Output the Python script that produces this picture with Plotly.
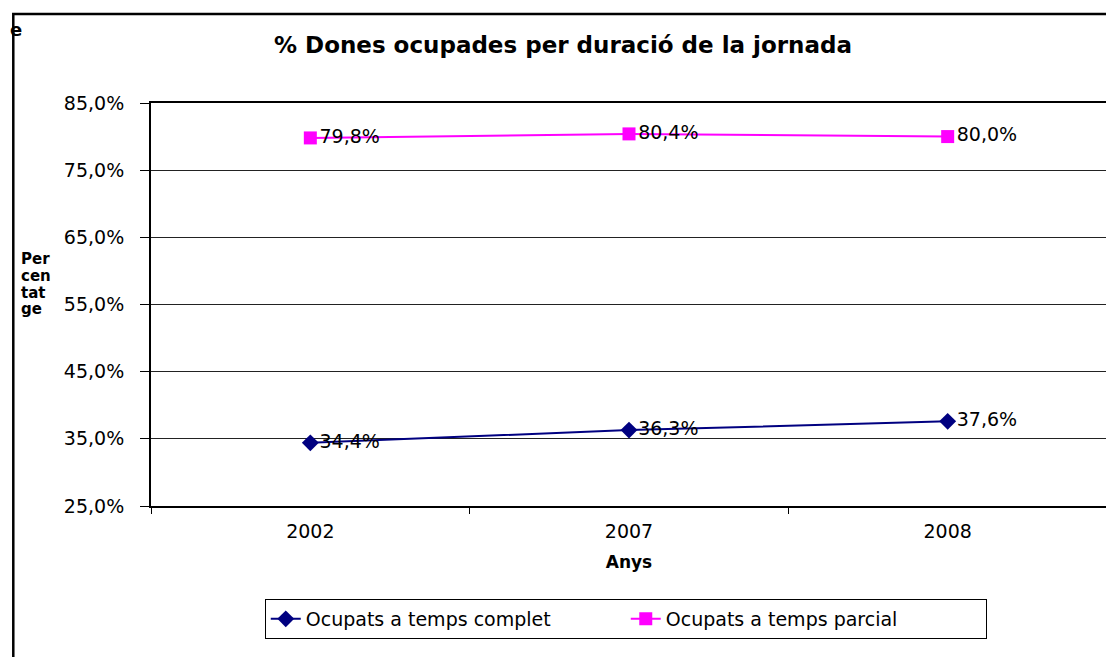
import plotly.graph_objects as go

# dades llegides del gràfic
anys = ["2002", "2007", "2008"]
temps_complet = [34.4, 36.3, 37.6]
temps_parcial = [79.8, 80.4, 80.0]
y_ticks = [25, 35, 45, 55, 65, 75, 85]

FONT = "DejaVu Sans"


def etiqueta(v):
    return f"{v:.1f}%".replace(".", ",")


fig = go.Figure()

fig.add_trace(go.Scatter(
    x=anys, y=temps_complet, name="Ocupats a temps complet",
    mode="lines+markers+text",
    line=dict(color="#000080", width=2),
    marker=dict(symbol="diamond", size=13, color="#000080"),
    text=[etiqueta(v) for v in temps_complet],
    textposition="middle right",
    textfont=dict(family=FONT, size=19, color="black"),
))
fig.add_trace(go.Scatter(
    x=anys, y=temps_parcial, name="Ocupats a temps parcial",
    mode="lines+markers+text",
    line=dict(color="#FF00FF", width=2),
    marker=dict(symbol="square", size=13, color="#FF00FF"),
    text=[etiqueta(v) for v in temps_parcial],
    textposition="middle right",
    textfont=dict(family=FONT, size=19, color="black"),
))

# la pàgina té 8px de marge al body
OFF = 8
W, H = 1114 - OFF, 657 - OFF
L, T = 151 - OFF, 103 - OFF
R = W - (1109 - OFF)
B = H - (506 - OFF)
pw, ph = W - L - R, H - T - B


def px_x(p):
    return (p - OFF - L) / pw


def px_y(p):
    return (H - B - (p - OFF)) / ph


fig.update_layout(
    width=W, height=H,
    margin=dict(l=L, r=R, t=T, b=B),
    paper_bgcolor="white", plot_bgcolor="white",
    font=dict(family=FONT, size=19, color="black"),
    title=dict(text="<b>% Dones ocupades per duració de la jornada</b>",
               x=(563 - OFF) / W, xanchor="center",
               y=1 - (45 - OFF) / H, yanchor="middle",
               font=dict(family=FONT, size=23)),
    showlegend=True,
    legend=dict(orientation="h", x=px_x(265), xanchor="left",
                y=px_y(599), yanchor="top",
                bordercolor="black", borderwidth=1,
                font=dict(family=FONT, size=19),
                entrywidth=315, entrywidthmode="pixels"),
    xaxis=dict(type="category", range=[-0.5, 2.5],
               showline=True, linecolor="black", linewidth=2,
               mirror=True, ticks="outside", ticklen=6, tickcolor="black",
               tickson="boundaries", showgrid=False, ticklabelstandoff=7,
               title=dict(text="<b>Anys</b>", font=dict(size=17), standoff=15),
               tickfont=dict(size=19)),
    yaxis=dict(range=[25, 85], tickvals=y_ticks,
               ticktext=[etiqueta(v) for v in y_ticks],
               showline=True, linecolor="black", linewidth=2, mirror=True,
               ticks="outside", ticklen=9, tickcolor="black",
               showgrid=True, gridcolor="#222", gridwidth=1,
               zeroline=False, ticklabelstandoff=12,
               tickfont=dict(size=19)),
)

# marc exterior del gràfic
fig.add_shape(type="rect", xref="paper", yref="paper",
              x0=px_x(13), x1=px_x(1140), y0=px_y(700), y1=px_y(14),
              line=dict(color="black", width=2.5), layer="below")

# títol de l'eix Y partit en línies
for txt, yy in zip(["Per", "cen", "tat", "ge"], [259, 276, 293, 309]):
    fig.add_annotation(text=f"<b>{txt}</b>", xref="paper", yref="paper",
                       x=px_x(19), y=px_y(yy), xanchor="left", yanchor="middle",
                       showarrow=False, font=dict(family=FONT, size=15))

fig.add_annotation(text="<b>e</b>", xref="paper", yref="paper",
                   x=px_x(8), y=px_y(29), xanchor="left", yanchor="middle",
                   showarrow=False, font=dict(family=FONT, size=18))

fig.write_html("out.html")
